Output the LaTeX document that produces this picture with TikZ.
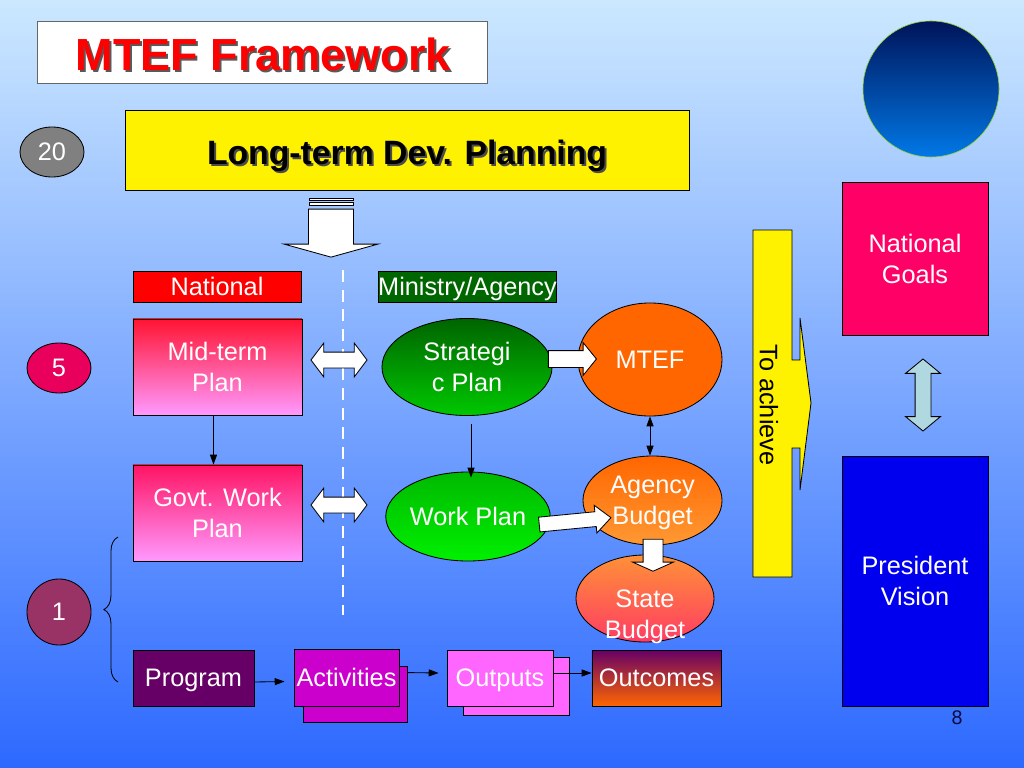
\documentclass[tikz,border=0pt]{standalone}
\usepackage{fontspec}
\setmainfont{Liberation Sans}
\usetikzlibrary{arrows.meta, calc, shapes.geometric, shapes.arrows, decorations.pathreplacing}

\definecolor{bgtop}{RGB}{204,232,255}
\definecolor{bgbot}{RGB}{45,105,255}
\definecolor{globetop}{RGB}{0,20,90}
\definecolor{globebot}{RGB}{0,120,230}
\definecolor{agencygreen}{RGB}{0,102,0}
\definecolor{midtop}{RGB}{255,20,50}
\definecolor{govtop}{RGB}{255,20,100}
\definecolor{pinkbot}{RGB}{255,153,255}
\definecolor{strattop}{RGB}{0,100,0}
\definecolor{stratbot}{RGB}{0,200,0}
\definecolor{worktop}{RGB}{0,185,0}
\definecolor{workbot}{RGB}{0,240,0}
\definecolor{mtefor}{RGB}{255,102,0}
\definecolor{agencybot}{RGB}{255,153,51}
\definecolor{statetop}{RGB}{255,145,55}
\definecolor{statebot}{RGB}{255,60,100}
\definecolor{fivered}{RGB}{232,0,92}
\definecolor{oneplum}{RGB}{153,51,102}
\definecolor{programpurple}{RGB}{102,0,102}
\definecolor{actmagenta}{RGB}{204,0,204}
\definecolor{outpink}{RGB}{255,102,255}
\definecolor{goalred}{RGB}{255,0,102}
\definecolor{visionblue}{RGB}{0,0,238}
\definecolor{linkcyan}{RGB}{176,216,224}
\definecolor{pagenum}{RGB}{10,10,60}

\tikzset{
  panel/.style={rectangle, draw=black, line width=0.6pt, inner sep=0pt, text=white,
    align=center, text depth=0pt, font=\fontsize{18}{22}\selectfont},
  blob/.style={ellipse, draw=black, line width=0.6pt, inner sep=0pt, text=white,
    align=center, text depth=0pt, font=\fontsize{18}{22}\selectfont},
  fatarrow/.style={single arrow, draw=black, fill=white, line width=0.6pt, inner xsep=0pt,
    single arrow head indent=0pt},
  fatdouble/.style={double arrow, draw=black, fill=white, line width=0.6pt, inner xsep=0pt,
    double arrow head indent=0pt},
  thinarrow/.style={-{Triangle[length=7pt,width=5pt]}, black, semithick},
  headline/.style={font=\bfseries\fontsize{24}{29}\selectfont},
}

\begin{document}
\begin{tikzpicture}[x=0.025cm, y=-0.025cm]
  \useasboundingbox (0,0) rectangle (1024,768);
  \shade[top color=bgtop, bottom color=bgbot] (0,0) rectangle (1024,768);

  \node[panel, fill=white, draw=gray!80!black, minimum width=11.25cm, minimum height=1.55cm] (title) at (262,52) {};
  \node[font=\bfseries\fontsize{32}{38}\selectfont, text=gray!70!black] at ($(title)+(3.5,4.5)$) {MTEF Framework};
  \node[font=\bfseries\fontsize{32}{38}\selectfont, text=red] (titletext) at ($(title)+(1.5,2.5)$) {MTEF Framework};

  \node[ellipse, draw=yellow!60!green, top color=globetop, bottom color=globebot, inner sep=0pt,
    minimum width=3.4cm, minimum height=3.4cm] (globe) at (931,89) {};

  \node[blob, fill=gray, minimum width=1.6cm, minimum height=1.25cm] (twenty) at (52,152) {20};
  \node[panel, fill=yellow, minimum width=14.1cm, minimum height=2cm] (longterm) at (407,150) {};
  \node[headline, text=gray!60!black] at ($(longterm)+(2,8)$) {Long-term Dev. Planning};
  \node[headline, text=black] (longtext) at ($(longterm)+(0,6)$) {Long-term Dev. Planning};

  \node[fatarrow, rotate=-90, inner ysep=0.55cm, minimum height=1.2cm, minimum width=2.325cm,
    single arrow head extend=0.6125cm, single arrow tip angle=149] (down) at (331,230) {};
  \draw[fill=white, line width=0.6pt] (309,198) rectangle (353,200.5);
  \draw[fill=white, line width=0.6pt] (309,202.5) rectangle (353,205.5);

  \coordinate (dashtop) at (343,270);
  \coordinate (dashbot) at (343,615);
  \draw[white, line width=2pt, dash pattern=on 8.5pt off 5.5pt] (dashtop) -- (dashbot);

  \node[panel, fill=red, minimum width=4.2cm, minimum height=0.775cm] (national) at (217,286.5) {National};
  \node[panel, fill=agencygreen, minimum width=4.225cm, minimum height=0.775cm] (ministry) at (467.5,286.5) {Ministry/Agency};

  \node[blob, fill=fivered, minimum width=1.6cm, minimum height=1.25cm] (five) at (59,368) {5};
  \node[panel, top color=midtop, bottom color=pinkbot, minimum width=4.225cm, minimum height=2.4cm] (midterm) at (217.5,367) {Mid-term\\Plan};
  \node[panel, top color=govtop, bottom color=pinkbot, minimum width=4.225cm, minimum height=2.4cm] (govtwork) at (217.5,513) {Govt. Work\\Plan};
  \draw[thinarrow] ([xshift=-0.1cm]midterm.south) -- ([xshift=-0.1cm]govtwork.north);

  \node[fatdouble, inner ysep=0.1875cm, minimum height=1.4cm, minimum width=0.825cm, double arrow head extend=0.225cm,
    double arrow tip angle=106] (link1) at (339,360) {};
  \node[fatdouble, inner ysep=0.1875cm, minimum height=1.4cm, minimum width=0.825cm, double arrow head extend=0.225cm,
    double arrow tip angle=106] (link2) at (339,505) {};

  \node[blob, top color=strattop, bottom color=stratbot, minimum width=4.25cm, minimum height=2.425cm] (strategic) at (467,367) {Strategi\\c Plan};
  \node[blob, top color=worktop, bottom color=workbot, minimum width=3.85cm, minimum height=2.225cm] (workplan) at (468,516.5) {Work Plan};
  \draw[thinarrow] ([shift={(4,8)}]strategic.south) -- ([shift={(3,6)}]workplan.north);

  \node[blob, fill=mtefor, minimum width=3.6cm, minimum height=2.825cm] (mtef) at (650,359.5) {MTEF};
  \node[blob, top color=mtefor, bottom color=agencybot, minimum width=3.475cm, minimum height=2.225cm] (agency) at (652.5,500.5) {Agency\\Budget};
  \draw[{Triangle[length=7pt,width=5pt]}-{Triangle[length=7pt,width=5pt]}, semithick] (mtef.south) -- (mtef.south |- agency.north);

  \node[fatarrow, inner ysep=0.2cm, minimum height=1.2cm, minimum width=0.8cm, single arrow head extend=0.2cm,
    single arrow tip angle=102] (tomtef) at (569,359) {};
  \node[fatarrow, rotate=5.5, inner ysep=0.175cm, minimum height=1.8cm, minimum width=0.675cm, single arrow head extend=0.1625cm,
    single arrow tip angle=84] (toagency) at (571,521.5) {};

  \node[blob, top color=statetop, bottom color=statebot, minimum width=3.45cm, minimum height=2.175cm] (state) at (645,598.5) {};
  \node[text=white, align=center, text depth=0pt, font=\fontsize{18}{22}\selectfont] (statetext) at (645,614) {State\\Budget};
  \node[fatarrow, rotate=-90, inner ysep=0.2375cm, minimum height=0.8cm, minimum width=1cm, single arrow head extend=0.2625cm,
    single arrow tip angle=132] (tostate) at (653,553) {};

  \node[blob, fill=oneplum, minimum width=1.6cm, minimum height=1.65cm] (one) at (59,612) {1};
  \coordinate (bracebot) at (118,682);
  \coordinate (bracetop) at (118,537);
  \draw[decorate, decoration={brace, amplitude=10pt}, semithick] (bracebot) -- (bracetop);

  \node[panel, fill=programpurple, minimum width=3.025cm, minimum height=1.4cm] (program) at (193.5,678) {Program};
  \node[panel, fill=actmagenta, minimum width=2.6cm, minimum height=1.4cm] (activitiesback) at (355,694) {};
  \node[panel, fill=actmagenta, minimum width=2.625cm, minimum height=1.425cm] (activities) at (346.5,677.5) {Activities};
  \node[panel, fill=outpink, minimum width=2.65cm, minimum height=1.45cm] (outputsback) at (516,686) {};
  \node[panel, fill=outpink, minimum width=2.65cm, minimum height=1.4cm] (outputs) at (500,678) {Outputs};
  \node[panel, top color=programpurple, bottom color=mtefor, minimum width=3.225cm, minimum height=1.4cm] (outcomes) at (656.5,678) {Outcomes};
  \draw[thinarrow] ([yshift=-0.1cm]program.east) -- ([xshift=-0.225cm,yshift=-0.1cm]activities.west);
  \draw[thinarrow] ([yshift=-0.175cm]activitiesback.north east) -- ([xshift=-0.2cm,yshift=0.125cm]outputs.west);
  \draw[thinarrow] ([yshift=0.125cm]outputs.east) -- ([yshift=0.125cm]outcomes.west);

  \draw[fill=yellow, line width=0.6pt] (753,230) -- (792,230) -- (792,360) -- (800,360) -- (800,318) -- (811,403)
    -- (800,490) -- (800,448) -- (792,448) -- (792,577) -- (753,577) -- cycle;
  \node[rotate=-90, font=\fontsize{18}{22}\selectfont, text=black] (achieve) at (769,405) {To achieve};

  \node[panel, fill=goalred, minimum width=3.65cm, minimum height=3.825cm] (goals) at (915,258.5) {National\\Goals};
  \node[fatdouble, rotate=90, fill=linkcyan, inner ysep=0.1875cm, minimum height=1.8cm, minimum width=0.85cm,
    double arrow head extend=0.2375cm, double arrow tip angle=101] (goallink) at (923,395) {};
  \node[panel, fill=visionblue, minimum width=3.65cm, minimum height=6.25cm] (vision) at (915,581) {President\\Vision};
  \node[font=\fontsize{14}{17}\selectfont, text=pagenum] (pageno) at (957,718) {8};
\end{tikzpicture}
\end{document}
